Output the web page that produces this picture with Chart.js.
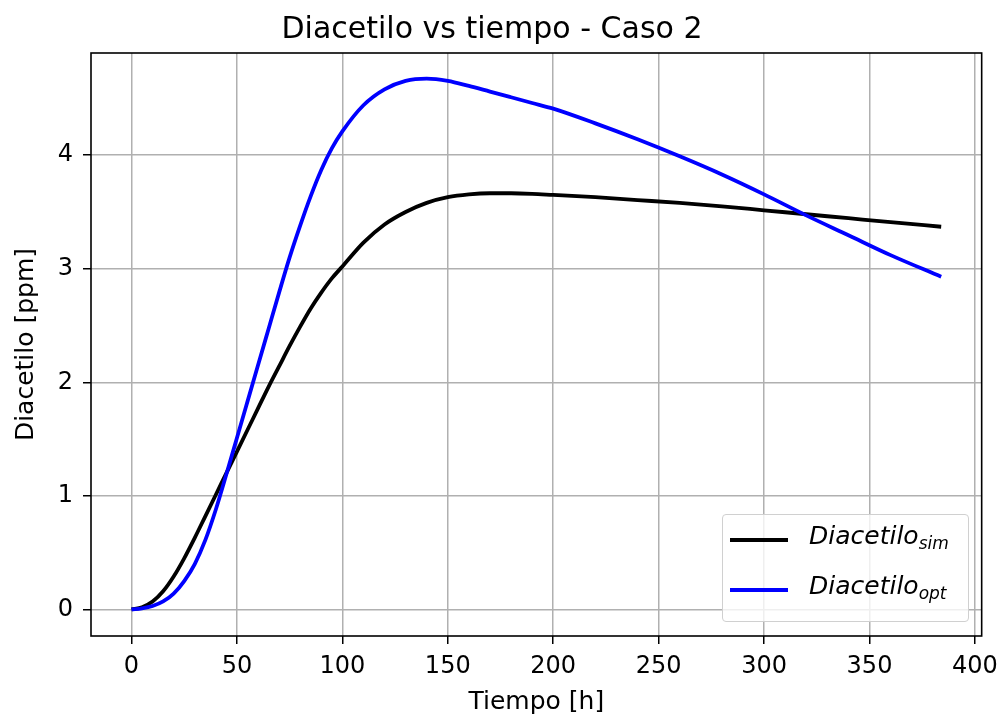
<!DOCTYPE html>
<html>
<head>
<meta charset="utf-8">
<script src="https://cdn.jsdelivr.net/npm/chart.js@4.4.1/dist/chart.umd.min.js"></script>
<style>
    html, body { margin: 0; padding: 0; background: #fff; }
    #wrap { position: relative; width: 1006px; height: 723px; }
    #legend {
        position: absolute; left: 722px; top: 514px; width: 247px; height: 108px;
        border: 1px solid #d0d0d0; border-radius: 4px; background: rgba(255,255,255,0.8);
        box-sizing: border-box; font-family: 'DejaVu Sans', sans-serif;
    }
    .row { position: absolute; left: 0; height: 40px; width: 100%; }
    .swatch { position: absolute; left: 7px; width: 58px; height: 4px; }
    .lbl { position: absolute; left: 86px; font-size: 25px; font-style: italic; color: #000; white-space: nowrap; }
    .lbl sub { font-size: 17px; vertical-align: -5px; }
</style>
</head>
<body>
<div id="wrap">
    <canvas id="chart"></canvas>
    <div id="legend">
        <div class="row" style="top:0">
            <div class="swatch" style="top:23px; background:#000"></div>
            <div class="lbl" style="top:6px">Diacetilo<sub>sim</sub></div>
        </div>
        <div class="row" style="top:50px">
            <div class="swatch" style="top:23px; background:#0000ff"></div>
            <div class="lbl" style="top:6px">Diacetilo<sub>opt</sub></div>
        </div>
    </div>
</div>
<script>
// tiempo [h]
const tiempo = [0, 5, 10, 15, 20, 25, 30, 35, 40, 45, 50, 55, 60, 65, 70, 75, 80, 85, 90, 95,
    100, 110, 120, 130, 140, 150, 160, 170, 180, 190, 200, 220, 240, 260, 280, 300, 320, 340, 360, 384];

// Diacetilo simulado [ppm]
const diacetiloSim = [0, 0.02, 0.07, 0.16, 0.29, 0.45, 0.63, 0.82, 1.01, 1.20, 1.39, 1.58, 1.77, 1.96, 2.14, 2.32, 2.49, 2.65, 2.79, 2.915,
    3.02, 3.23, 3.39, 3.50, 3.58, 3.63, 3.655, 3.665, 3.665, 3.66, 3.65, 3.63, 3.605, 3.58, 3.55, 3.515, 3.48, 3.445, 3.41, 3.37];

// Diacetilo optimizado [ppm]
const diacetiloOpt = [0, 0.01, 0.03, 0.07, 0.14, 0.25, 0.40, 0.61, 0.88, 1.19, 1.51, 1.83, 2.15, 2.47, 2.79, 3.10, 3.38, 3.64, 3.87, 4.06,
    4.21, 4.44, 4.58, 4.655, 4.675, 4.655, 4.61, 4.56, 4.51, 4.46, 4.41, 4.28, 4.14, 3.99, 3.83, 3.655, 3.47, 3.295, 3.12, 2.93];

const xTicks = [0, 50, 100, 150, 200, 250, 300, 350, 400];
const yTicks = [0, 1, 2, 3, 4];

// rangos estilo matplotlib (margen 5%)
const xMin = -19.2, xMax = 403.2;
const yMin = -0.234, yMax = 4.9;

Chart.defaults.font.family = "'DejaVu Sans', sans-serif";
Chart.defaults.color = '#000';

// marco negro alrededor del area del grafico
const framePlugin = {
    id: 'frame',
    afterDatasetsDraw(chart) {
        const a = chart.chartArea;
        const ctx = chart.ctx;
        ctx.save();
        ctx.strokeStyle = '#000';
        ctx.lineWidth = 1.6;
        ctx.strokeRect(a.left, a.top, a.right - a.left, a.bottom - a.top);
        ctx.restore();
    }
};

const toPoints = (ys) => tiempo.map((t, i) => ({ x: t, y: ys[i] }));

new Chart(document.getElementById('chart'), {
    type: 'line',
    data: {
        datasets: [{
            label: 'Diacetilo sim',
            data: toPoints(diacetiloSim),
            borderColor: '#000',
            borderWidth: 3.8,
            pointRadius: 0,
            cubicInterpolationMode: 'monotone',
            order: 1
        }, {
            label: 'Diacetilo opt',
            data: toPoints(diacetiloOpt),
            borderColor: '#0000ff',
            borderWidth: 3.8,
            pointRadius: 0,
            cubicInterpolationMode: 'monotone',
            order: 0
        }]
    },
    options: {
        responsive: true,
        maintainAspectRatio: false,
        animation: false,
        layout: { padding: { left: 0, right: 22, top: 0, bottom: 0 } },
        plugins: {
            legend: { display: false },
            tooltip: { enabled: false },
            title: {
                display: true,
                text: 'Diacetilo vs tiempo - Caso 2',
                font: { size: 30, weight: 'normal' },
                color: '#000',
                padding: { top: 12, bottom: 5 }
            }
        },
        scales: {
            x: {
                type: 'linear',
                min: xMin,
                max: xMax,
                afterBuildTicks: (s) => { s.ticks = xTicks.map(v => ({ value: v })); },
                afterFit: (s) => { s.height = 87; },
                ticks: { font: { size: 24 }, padding: 8, maxRotation: 0, includeBounds: false },
                grid: { color: '#b0b0b0', lineWidth: 1.5, tickColor: '#000', tickLength: 8, tickWidth: 1.5 },
                border: { display: false },
                title: { display: true, text: 'Tiempo [h]', font: { size: 25 }, padding: { top: 0, bottom: 6 } }
            },
            y: {
                type: 'linear',
                min: yMin,
                max: yMax,
                afterBuildTicks: (s) => { s.ticks = yTicks.map(v => ({ value: v })); },
                afterFit: (s) => { s.width = 91; },
                ticks: { font: { size: 24 }, padding: 10, includeBounds: false },
                grid: { color: '#b0b0b0', lineWidth: 1.5, tickColor: '#000', tickLength: 8, tickWidth: 1.5 },
                border: { display: false },
                title: { display: true, text: 'Diacetilo [ppm]', font: { size: 25 }, padding: { top: 11, bottom: 0 } }
            }
        }
    },
    plugins: [framePlugin]
});
</script>
</body>
</html>
